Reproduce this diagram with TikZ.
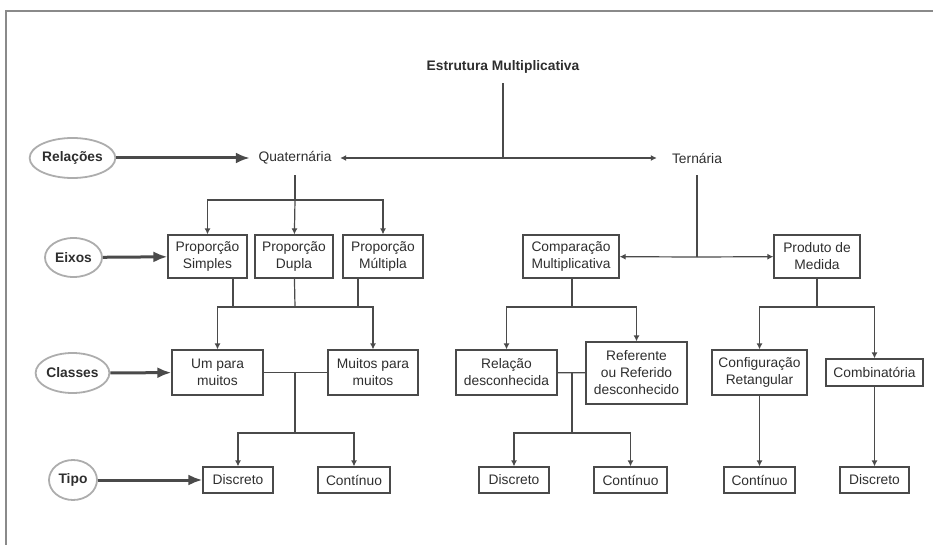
\documentclass[tikz,border=0pt]{standalone}
\usepackage{fontspec}
\setmainfont{Liberation Sans}
\usetikzlibrary{arrows.meta,shapes.geometric}
\definecolor{txt}{HTML}{2E2E2E}
\definecolor{ln}{HTML}{4A4A4A}
\definecolor{oval}{HTML}{ADADAD}
\definecolor{frame}{HTML}{8A8A8A}
\begin{document}
\begin{tikzpicture}[x=1pt,y=-1pt,
  font=\fontsize{13.8}{17}\selectfont, text=txt,
  box/.style={draw=ln, line width=1.2pt, align=center, inner sep=0pt},
  lbl/.style={inner sep=0pt},
  tag/.style={draw=oval, line width=1.8pt, ellipse, inner sep=0pt, font=\fontsize{13.8}{17}\selectfont\bfseries},
  link/.style={draw=ln, line width=1.2pt},
  tip/.style={link, -{Latex[length=6pt,width=6pt]}},
  bigarrow/.style={draw=ln, line width=3pt, -{Latex[length=14pt,width=11pt]}}
]
\useasboundingbox (0,0) rectangle (933,545);
% page frame
\draw[frame, line width=1.4pt] (6,545) -- (6,11) -- (933,11);

% headings
\node[lbl, minimum height=32pt, font=\fontsize{13.8}{17}\selectfont\bfseries] (title) at (503,67) {Estrutura Multiplicativa};
\node[lbl, minimum width=90pt, minimum height=34pt] (quat) at (295,158) {Quaternária};
\node[lbl, minimum width=80pt, minimum height=34pt] (tern) at (697,158) {Ternária};

% left side labels
\node[tag, minimum width=79pt, minimum height=40pt] (rel) at (72.5,158) {Relações};
\node[tag, minimum width=57pt, minimum height=39pt] (eix) at (73.5,257.5) {Eixos};
\node[tag, minimum width=71pt, minimum height=40pt] (cla) at (72.5,373) {Classes};
\node[tag, minimum width=48pt, minimum height=40pt] (tipo) at (73,480) {Tipo};

% quaternary branch
\node[box, minimum width=79pt, minimum height=43pt] (ps) at (207.5,256.5) {Proporção\\Simples};
\node[box, minimum width=78pt, minimum height=43pt] (pd) at (294,256.5) {Proporção\\Dupla};
\node[box, minimum width=80pt, minimum height=43pt] (pm) at (383,256.5) {Proporção\\Múltipla};
\node[box, minimum width=91pt, minimum height=45pt] (um) at (217.5,372.5) {Um para\\muitos};
\node[box, minimum width=90pt, minimum height=45pt] (mm) at (373,372.5) {Muitos para\\muitos};
\node[box, minimum width=70pt, minimum height=26pt] (d1) at (238,480) {Discreto};
\node[box, minimum width=72pt, minimum height=26pt] (c1) at (354,480) {Contínuo};

% ternary branch
\node[box, minimum width=96pt, minimum height=43pt] (cm) at (571,256.5) {Comparação\\Multiplicativa};
\node[box, minimum width=86pt, minimum height=43pt] (pdm) at (817,256.5) {Produto de\\Medida};
\node[box, minimum width=101pt, minimum height=45pt] (rd) at (506.5,372.5) {Relação\\desconhecida};
\node[box, minimum width=101pt, minimum height=62pt] (rr) at (636.5,373) {Referente\\ou Referido\\desconhecido};
\node[box, minimum width=70pt, minimum height=26pt] (d2) at (514,480) {Discreto};
\node[box, minimum width=73pt, minimum height=26pt] (c2) at (630.5,480) {Contínuo};
\node[box, minimum width=95pt, minimum height=45pt] (cr) at (759.5,372.5) {Configuração\\Retangular};
\node[box, minimum width=97pt, minimum height=27pt] (cb) at (874.5,372.5) {Combinatória};
\node[box, minimum width=71pt, minimum height=26pt] (c3) at (759.5,480) {Contínuo};
\node[box, minimum width=69pt, minimum height=26pt] (d3) at (874.5,480) {Discreto};

% junction points
\coordinate (j0) at (503,158);
\coordinate (q1) at (295,200);
\coordinate (a1) at (233,307);
\coordinate (a2) at (295,307);
\coordinate (a3) at (358,307);
\coordinate (k1) at (295,373);
\coordinate (k2) at (295,433);
\coordinate (t1) at (697,257);
\coordinate (f1) at (572,307);
\coordinate (g1) at (572,373);
\coordinate (g2) at (572,433);
\coordinate (h1) at (817,307);

% title to relations
\draw[link] (title) -- (j0);
\draw[tip] (j0) -- (quat);
\draw[tip] (j0) -- (tern);

% quaternary connectors
\draw[link] (quat) -- (q1);
\draw[tip] (q1) -| (ps);
\draw[tip] (q1) -- (pd);
\draw[tip] (q1) -| (pm);
\draw[link] (a1 |- ps.south) -- (a1);
\draw[link] (pd) -- (a2);
\draw[link] (a3 |- pm.south) -- (a3);
\draw[tip] (a2) -| (um);
\draw[tip] (a2) -| (mm);
\draw[link] (um) -- (mm);
\draw[link] (k1) -- (k2);
\draw[tip] (k2) -| (d1);
\draw[tip] (k2) -| (c1);

% ternary connectors
\draw[link] (tern) -- (t1);
\draw[tip] (t1) -- (cm);
\draw[tip] (t1) -- (pdm);
\draw[link] (f1 |- cm.south) -- (f1);
\draw[tip] (f1) -| (rd);
\draw[tip] (f1) -| (rr);
\draw[link] (rd) -- (rr);
\draw[link] (g1) -- (g2);
\draw[tip] (g2) -| (d2);
\draw[tip] (g2) -| (c2);
\draw[link] (pdm) -- (h1);
\draw[tip] (h1) -| (cr);
\draw[tip] (h1) -| (cb);
\draw[tip] (cr) -- (c3);
\draw[tip] (cb) -- (d3);

% level labels
\draw[bigarrow] (rel) -- (quat);
\draw[bigarrow] (eix) -- (ps);
\draw[bigarrow] (cla) -- (um);
\draw[bigarrow] (tipo) -- (d1);
\end{tikzpicture}
\end{document}
